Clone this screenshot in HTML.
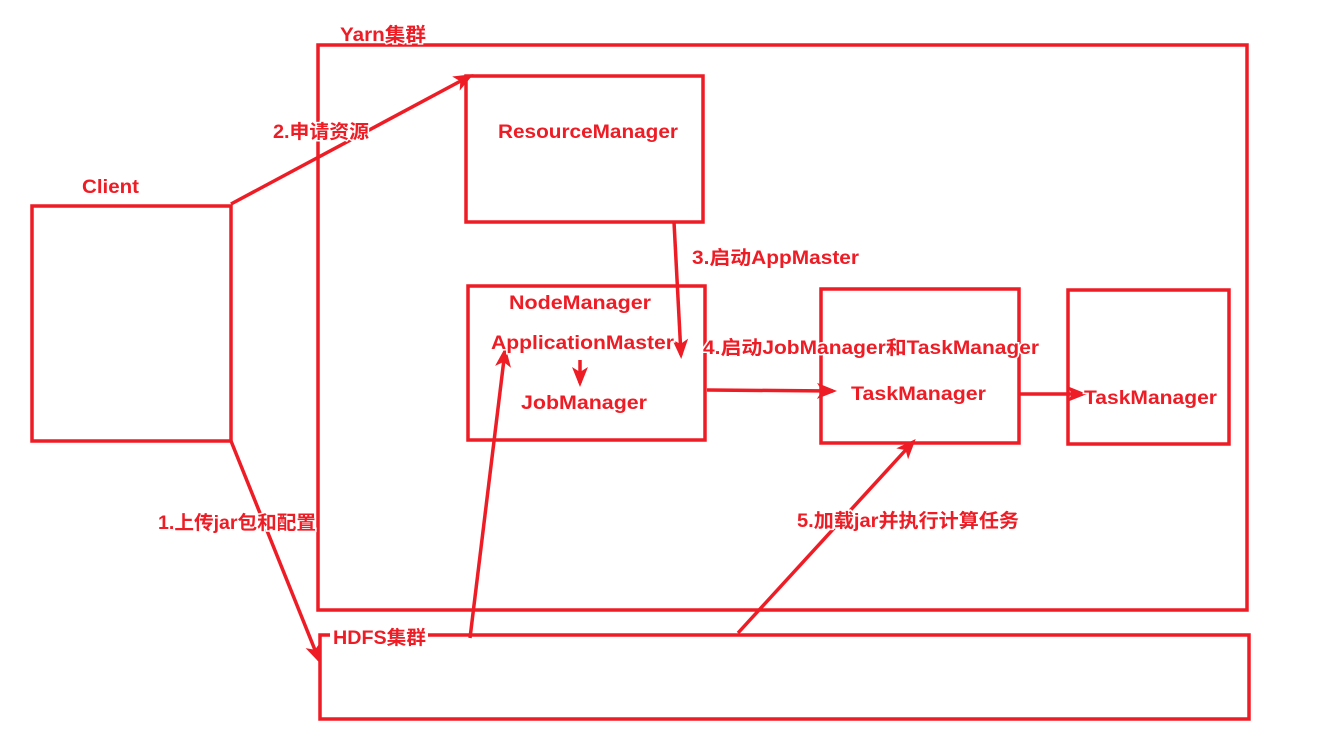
<!DOCTYPE html>
<html><head><meta charset="utf-8"><style>
html,body{margin:0;padding:0;background:#fff;}
svg text{font-family:"Liberation Sans","Noto Sans CJK SC",sans-serif;font-weight:bold;font-size:19px;fill:#ee1c25;stroke:#fff;stroke-width:3px;paint-order:stroke;}
</style></head><body>
<svg width="1321" height="736" viewBox="0 0 1321 736" xmlns="http://www.w3.org/2000/svg">
<defs>
<marker id="b" markerWidth="20" markerHeight="20" refX="16" refY="10" orient="auto" markerUnits="userSpaceOnUse"><path d="M0,2 L20,10 L0,18 L5,10 z" fill="#ee1c25"/></marker></defs>
<g fill="none" stroke="#ee1c25" stroke-width="3.5">
<rect x="318" y="45" width="929" height="565"/>
<rect x="466" y="76" width="237" height="146"/>
<rect x="32" y="206" width="199" height="235"/>
<rect x="468" y="286" width="237" height="154"/>
<rect x="821" y="289" width="198" height="154"/>
<rect x="1068" y="290" width="161" height="154"/>
<rect x="320" y="635" width="929" height="84"/>
<g marker-end="url(#b)">
<line x1="231" y1="204" x2="470" y2="76"/>
<line x1="231" y1="441" x2="319" y2="660"/>
<line x1="674" y1="222" x2="681" y2="355"/>
<line x1="580" y1="360" x2="580" y2="383"/>
<line x1="707" y1="390" x2="833" y2="391"/>
<line x1="1019" y1="394" x2="1083" y2="394"/>
<line x1="470" y1="638" x2="505" y2="351"/>
<line x1="738" y1="633" x2="913" y2="442"/>
</g>
</g>
<rect x="330" y="627" width="98" height="20" fill="#fff"/>
<text x="340" y="41" textLength="86" lengthAdjust="spacingAndGlyphs">Yarn集群</text>
<text x="82" y="193" textLength="57" lengthAdjust="spacingAndGlyphs">Client</text>
<text x="273" y="138" textLength="96" lengthAdjust="spacingAndGlyphs">2.申请资源</text>
<text x="498" y="138" textLength="180" lengthAdjust="spacingAndGlyphs">ResourceManager</text>
<text x="692" y="264" textLength="167" lengthAdjust="spacingAndGlyphs">3.启动AppMaster</text>
<text x="509" y="309" textLength="142" lengthAdjust="spacingAndGlyphs">NodeManager</text>
<text x="491" y="349" textLength="183" lengthAdjust="spacingAndGlyphs">ApplicationMaster</text>
<text x="703" y="354" textLength="336" lengthAdjust="spacingAndGlyphs">4.启动JobManager和TaskManager</text>
<text x="521" y="409" textLength="126" lengthAdjust="spacingAndGlyphs">JobManager</text>
<text x="851" y="400" textLength="135" lengthAdjust="spacingAndGlyphs">TaskManager</text>
<text x="1084" y="404" textLength="133" lengthAdjust="spacingAndGlyphs">TaskManager</text>
<text x="158" y="529" textLength="158" lengthAdjust="spacingAndGlyphs">1.上传jar包和配置</text>
<text x="797" y="527" textLength="222" lengthAdjust="spacingAndGlyphs">5.加载jar并执行计算任务</text>
<text x="333" y="644" textLength="93" lengthAdjust="spacingAndGlyphs">HDFS集群</text>
</svg>
</body></html>
